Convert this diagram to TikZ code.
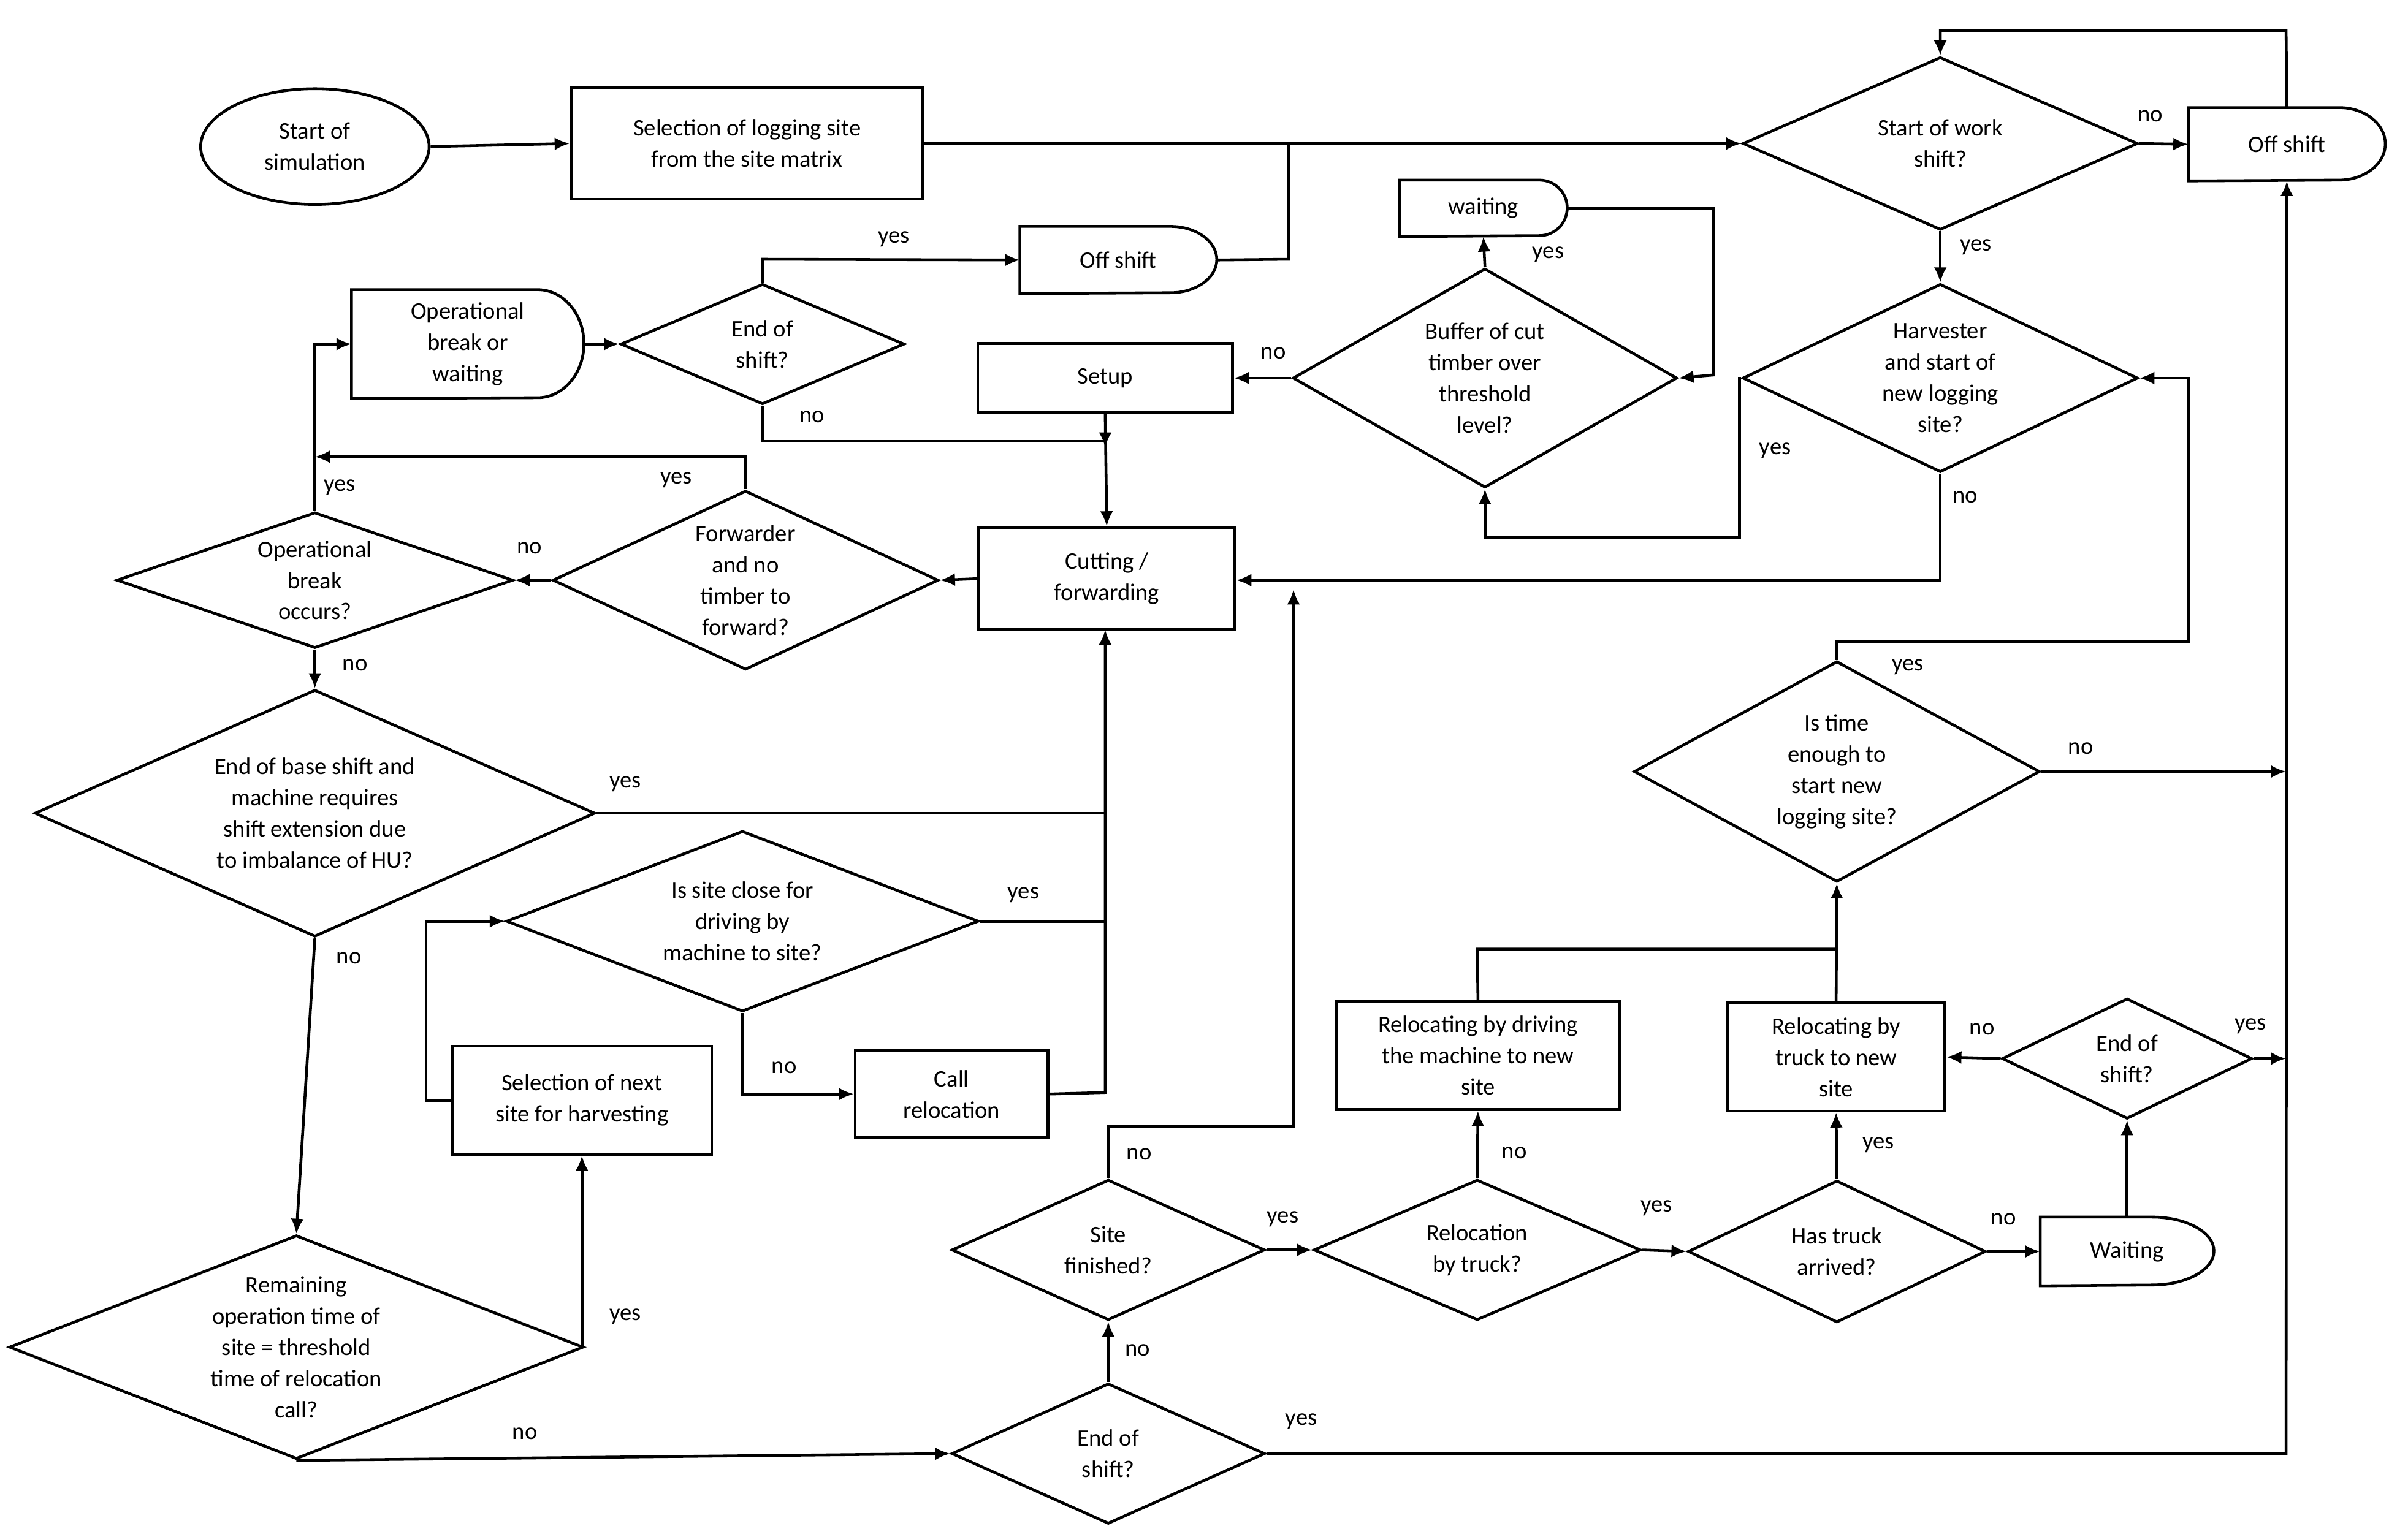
\documentclass[tikz,border=0pt]{standalone}
\usepackage{fontspec}
\setmainfont{Carlito}
\usetikzlibrary{shapes.geometric,arrows.meta}
\newcommand\pu{0.2518mm}
\newcommand\delayshape[3]{\draw[ln] (#1.south west) -- (#1.north west) -- ([xshift=-#2*\pu]#1.north east) arc[start angle=90,end angle=-90,x radius=#2*\pu,y radius=#3*\pu] -- cycle;}
\begin{document}
\begin{tikzpicture}[x=0.02518cm,y=-0.02518cm,
  every node/.style={font=\fontsize{11}{14.5}\selectfont, align=center},
  ln/.style={line width=1.3pt},
  arr/.style={ln,-{Latex[length=7pt,width=6pt]}},
  box/.style={ln,draw,rectangle,inner sep=0pt},
  dia/.style={ln,draw,diamond,inner sep=0pt},
  dly/.style={inner sep=0pt,rectangle},
  lab/.style={inner sep=1pt}]
\useasboundingbox (0,0) rectangle (1560,996);
% nodes
\node[ln,draw,ellipse,minimum width=148*\pu,minimum height=75*\pu,inner sep=0pt] (start) at (204,95) {Start of\\simulation};
\node[box,minimum width=228*\pu,minimum height=72*\pu] (sel) at (484,93) {Selection of logging site\\from the site matrix};
\node[dia,minimum width=256*\pu,minimum height=112*\pu,label={center:{Start of work\\shift?}}] (ss) at (1257,93) {};
\node[dly,minimum width=127*\pu,minimum height=47*\pu] (off1) at (1481.5,93.5) {Off shift};
\node[dia,minimum width=256*\pu,minimum height=122*\pu,label={center:{Harvester\\and start of\\new logging\\site?}}] (harv) at (1257,245) {};
\node[dia,minimum width=249*\pu,minimum height=142*\pu,label={center:{Buffer of cut\\timber over\\threshold\\level?}}] (buf) at (962,245) {};
\node[dly,minimum width=108*\pu,minimum height=36*\pu] (w1) at (961,135) {waiting};
\node[box,minimum width=165*\pu,minimum height=45*\pu] (setup) at (716,245) {Setup};
\node[box,minimum width=166*\pu,minimum height=66*\pu] (cut) at (717,375) {Cutting /\\forwarding};
\node[dia,minimum width=184*\pu,minimum height=78*\pu,label={center:{End of\\shift?}}] (es1) at (494,223) {};
\node[dly,minimum width=127*\pu,minimum height=43*\pu] (off2) at (724.5,168.5) {Off shift};
\node[dly,minimum width=150*\pu,minimum height=70*\pu] (ob) at (303,223) {Operational\\break or\\waiting};
\node[dia,minimum width=250*\pu,minimum height=116*\pu,label={center:{Forwarder\\and no\\timber to\\forward?}}] (fwd) at (483,376) {};
\node[dia,minimum width=257*\pu,minimum height=88*\pu,label={center:{Operational\\break\\occurs?}}] (opo) at (204,376) {};
\node[dia,minimum width=363*\pu,minimum height=160*\pu,label={center:{End of base shift and\\machine requires\\shift extension due\\to imbalance of HU?}}] (eb) at (204,527) {};
\node[dia,minimum width=306*\pu,minimum height=117*\pu,label={center:{Is site close for\\driving by\\machine to site?}}] (close) at (481,597) {};
\node[box,minimum width=168*\pu,minimum height=70*\pu] (seln) at (377,713) {Selection of next\\site for harvesting};
\node[box,minimum width=125*\pu,minimum height=56*\pu] (call) at (616.5,709) {Call\\relocation};
\node[dia,minimum width=372*\pu,minimum height=145*\pu,label={center:{Remaining\\operation time of\\site = threshold\\time of relocation\\call?}}] (rem) at (192,873) {};
\node[dia,minimum width=203*\pu,minimum height=91*\pu,label={center:{End of\\shift?}}] (es2) at (718,942) {};
\node[dia,minimum width=203*\pu,minimum height=91*\pu,label={center:{Site\\finished?}}] (sf) at (718,810) {};
\node[dia,minimum width=212*\pu,minimum height=91*\pu,label={center:{Relocation\\by truck?}}] (rt) at (957,810) {};
\node[box,minimum width=183*\pu,minimum height=70*\pu] (rd) at (957.5,684) {Relocating by driving\\the machine to new\\site};
\node[dia,minimum width=193*\pu,minimum height=92*\pu,label={center:{Has truck\\arrived?}}] (ht) at (1190,811) {};
\node[dly,minimum width=112*\pu,minimum height=44*\pu] (w2) at (1378,811) {Waiting};
\node[dia,minimum width=162*\pu,minimum height=78*\pu,label={center:{End of\\shift?}}] (es3) at (1378,686) {};
\node[box,minimum width=141*\pu,minimum height=70*\pu] (rtb) at (1189.5,685) {Relocating by\\truck to new\\site};
\node[dia,minimum width=263*\pu,minimum height=143*\pu,label={center:{Is time\\enough to\\start new\\logging site?}}] (te) at (1190,500) {};
% delay outlines
\delayshape{off1}{30}{23.5}
\delayshape{w1}{18}{18}
\delayshape{off2}{30}{21.5}
\delayshape{ob}{30}{35}
\delayshape{w2}{40}{22}
% coordinates
\coordinate (j1) at (835,93);
\coordinate (top) at (1257,20);
\coordinate (ax) at (1481,500);
\coordinate (ax2) at (1481,686);
\coordinate (cutin) at (716,286);
\coordinate (cbot) at (716,597);
% edges
\draw[arr] (start.east) -- (sel.west);
\draw[arr] (sel.east) -- (ss.west);
\draw[ln] (off2.east) -- (835,168) -- (j1);
\draw[arr] (ss.east) -- (off1.west);
\draw[arr] (off1.north) -- (1481,20) -- (top) -- (ss.north);
\draw[arr] (ss.south) -- (harv.north);
\draw[arr] (harv.west) -- (1127,245) -- (1127,348) -- (962,348) -- (buf.south);
\draw[arr] (harv.south) -- (1257,376) -- (cut.east |- 0,376);
\draw[arr] (buf.west) -- (setup.east);
\draw[arr] (buf.north) -- (w1.south);
\draw[arr] (w1.east) -- (1110,135) -- (1110,243) -- (buf.east);
\draw[arr] (setup.south) -- (cut.north);
\draw[arr] (es1.north) -- (494,168) -- (off2.west);
\draw[arr] (es1.south) -- (494,286) -- (716,286) -- (716,290);
\draw[arr] (ob.east) -- (es1.west);
\draw[arr] (cut.west) -- (fwd.east);
\draw[arr] (fwd.west) -- (opo.east);
\draw[arr] (fwd.north) -- (483,296) -- (204,296);
\draw[arr] (opo.north) -- (204,223) -- (ob.west);
\draw[arr] (opo.south) -- (eb.north);
\draw[ln] (eb.east) -- (716,527);
\draw[ln] (close.east) -- (cbot);
\draw[arr] (call.east) -- (716,708) -- (716,408);
\draw[arr] (close.south) -- (481,709) -- (call.west);
\draw[arr] (seln.west) -- (276,713) -- (276,597) -- (close.west);
\draw[arr] (eb.south) -- (rem.north);
\draw[arr] (rem.east) -- (377,873) -- (seln.south);
\draw[arr] (rem.south) -- (es2.west);
\draw[arr] (es2.north) -- (sf.south);
\draw[arr] (es2.east) -- (1481,942) -- (off1.south);
\draw[arr] (sf.north) -- (718,730) -- (838,730) -- (838,382);
\draw[arr] (sf.east) -- (rt.west);
\draw[arr] (rt.north) -- (rd.south);
\draw[ln] (rd.north) -- (957,615) -- (1190,615);
\draw[arr] (rt.east) -- (ht.west);
\draw[arr] (ht.north) -- (rtb.south);
\draw[arr] (ht.east) -- (w2.west);
\draw[arr] (w2.north) -- (es3.south);
\draw[arr] (es3.west) -- (rtb.east);
\draw[arr] (es3.east) -- (ax2);
\draw[arr] (rtb.north) -- (te.south);
\draw[arr] (te.north) -- (1190,416) -- (1418,416) -- (1418,245) -- (harv.east);
\draw[arr] (te.east) -- (ax);
% labels
\node[lab] (l1) at (1393,75) {no};
\node[lab] (l2) at (1280,160) {yes};
\node[lab] (l3) at (1150,292) {yes};
\node[lab] (l4) at (1273,322) {no};
\node[lab] (l5) at (825,229) {no};
\node[lab] (l6) at (1003,165) {yes};
\node[lab] (l7) at (579,155) {yes};
\node[lab] (l8) at (526,270) {no};
\node[lab] (l9) at (343,355) {no};
\node[lab] (l10) at (438,311) {yes};
\node[lab] (l11) at (220,316) {yes};
\node[lab] (l12) at (230,431) {no};
\node[lab] (l13) at (405,508) {yes};
\node[lab] (l14) at (663,580) {yes};
\node[lab] (l15) at (508,692) {no};
\node[lab] (l16) at (226,621) {no};
\node[lab] (l17) at (405,853) {yes};
\node[lab] (l18) at (340,929) {no};
\node[lab] (l19) at (737,875) {no};
\node[lab] (l20) at (843,921) {yes};
\node[lab] (l21) at (738,748) {no};
\node[lab] (l22) at (831,790) {yes};
\node[lab] (l23) at (981,747) {no};
\node[lab] (l24) at (1073,783) {yes};
\node[lab] (l25) at (1217,742) {yes};
\node[lab] (l26) at (1298,790) {no};
\node[lab] (l27) at (1284,667) {no};
\node[lab] (l28) at (1458,665) {yes};
\node[lab] (l29) at (1236,432) {yes};
\node[lab] (l30) at (1348,485) {no};
\end{tikzpicture}
\end{document}
